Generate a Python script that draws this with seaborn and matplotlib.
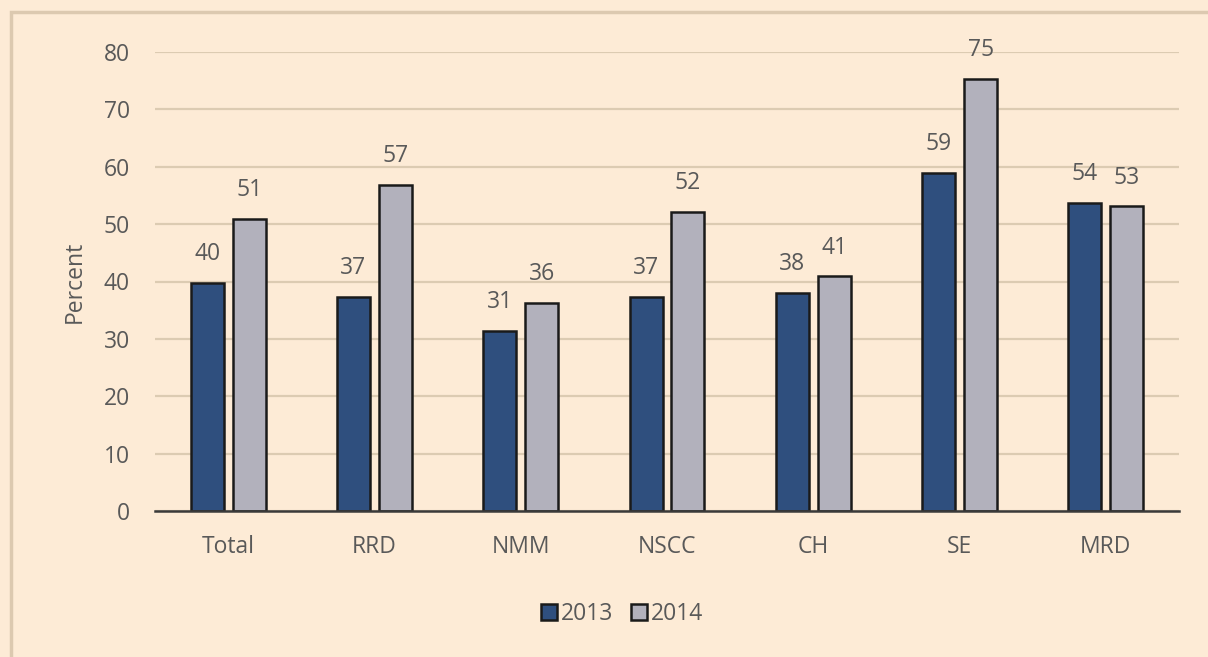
import matplotlib
matplotlib.use("Agg")
import matplotlib.pyplot as plt
import matplotlib.patches as mpatches
import seaborn as sns
import pandas as pd

# Regional shares, two survey years
regions = ["Total", "RRD", "NMM", "NSCC", "CH", "SE", "MRD"]
values_2013 = [39.8, 37.3, 31.4, 37.3, 38.0, 58.9, 53.7]
values_2014 = [50.9, 56.8, 36.3, 52.1, 40.9, 75.3, 53.1]
years = ["2013", "2014"]

df = pd.DataFrame({
    "Region": regions * 2,
    "Year": [years[0]] * len(regions) + [years[1]] * len(regions),
    "Percent": values_2013 + values_2014,
})

BG = "#FDEBD6"
TEXT = "#595959"
FS = 16.5
palette = {"2013": "#2F4F7E", "2014": "#B2B1BC"}

sns.set_theme(style="white")
plt.rcParams["font.family"] = ["Open Sans", "DejaVu Sans"]

fig = plt.figure(figsize=(12.08, 6.57), dpi=100, facecolor=BG)
ax = fig.add_axes([155 / 1208, 1 - 511 / 657, (1179 - 155) / 1208, (511 - 52) / 657])
ax.set_facecolor(BG)

sns.barplot(
    data=df, x="Region", y="Percent", hue="Year", order=regions,
    hue_order=years, palette=palette, width=0.574, gap=0.214,
    edgecolor="#1a1a1a", linewidth=1.8, saturation=1, ax=ax, legend=False,
    zorder=3,
)

ax.set_ylim(0, 80)
ax.set_xlim(-0.5, len(regions) - 0.5)
ax.set_yticks(range(0, 81, 10))
ax.yaxis.grid(True, color="#DCCBB2", linewidth=1.6, zorder=0)
ax.xaxis.grid(False)
for side in ["top", "right", "left"]:
    ax.spines[side].set_visible(False)
ax.spines["bottom"].set_color("#3a3a3a")
ax.spines["bottom"].set_linewidth(1.8)
ax.spines["bottom"].set_zorder(4)

ax.tick_params(axis="y", length=0, pad=18, labelsize=FS, labelcolor=TEXT)
ax.tick_params(axis="x", length=0, pad=17, labelsize=FS, labelcolor=TEXT)
ax.set_xlabel("")
ax.set_ylabel("Percent", fontsize=FS, color=TEXT, labelpad=12)

for container in ax.containers:
    ax.bar_label(
        container,
        labels=[f"{b.get_height():.0f}" for b in container],
        padding=12, fontsize=FS, color=TEXT,
    )

handles = [
    mpatches.Patch(facecolor=palette[y], edgecolor="#1a1a1a", linewidth=1.8, label=y)
    for y in years
]
fig.legend(
    handles=handles, loc="center", bbox_to_anchor=(622 / 1208, 1 - 614 / 657),
    ncol=2, frameon=False, fontsize=FS, labelcolor=TEXT,
    handlelength=0.7, handleheight=0.7, handletextpad=0.15, columnspacing=0.8,
)

# Outer panel frame
frame = mpatches.Rectangle(
    (11 / 1208, -0.05), 1.2, 1 - 12 / 657 + 0.05, transform=fig.transFigure,
    facecolor="none", edgecolor="#DCC9B0", linewidth=2.5, zorder=0,
)
fig.patches.append(frame)

fig.savefig("out.png", dpi=100, facecolor=BG)
